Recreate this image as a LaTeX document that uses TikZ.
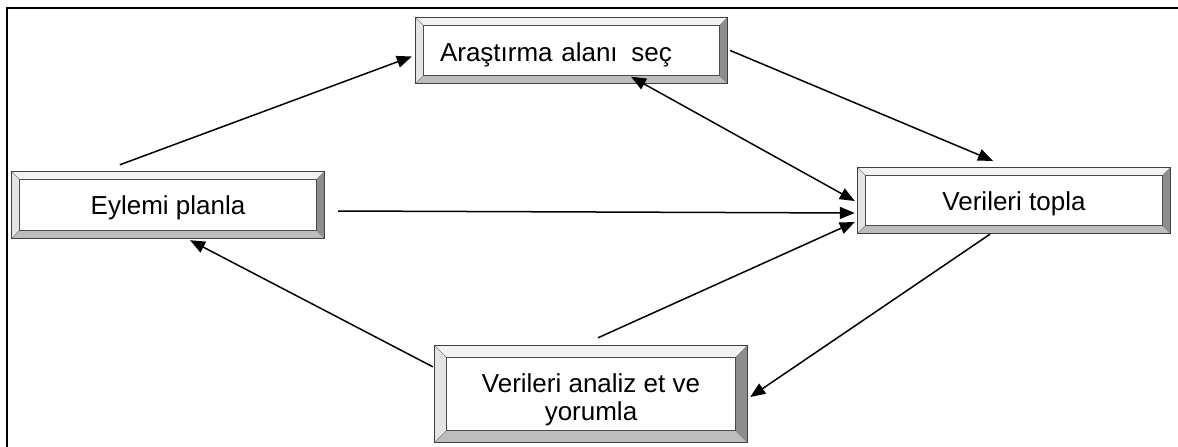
\documentclass[tikz,border=0pt]{standalone}
\usepackage{fontspec}
\setmainfont{Liberation Sans}
\usetikzlibrary{arrows.meta}
\definecolor{bevtop}{HTML}{F2F2F2}
\definecolor{bevleft}{HTML}{E4E4E4}
\definecolor{bevright}{HTML}{8E8E8E}
\definecolor{bevbottom}{HTML}{BDBDBD}
\tikzset{
  box/.style={rectangle, inner sep=0pt, minimum width=312pt, minimum height=66pt,
    font=\fontsize{26}{28}\selectfont, align=center, text height=20pt, text depth=0pt},
  conn/.style={-{Triangle[length=15pt,width=12pt]}, line width=1.5pt, black},
  bconn/.style={{Triangle[length=15pt,width=12pt]}-{Triangle[length=15pt,width=12pt]}, line width=1.5pt, black},
  frame/.style={line width=1.4pt, black},
}
\newcommand\bevelbox[2]{%
  \fill[bevtop] (#1.north west) -- (#1.north east) -- ([xshift=-#2,yshift=-#2]#1.north east) -- ([xshift=#2,yshift=-#2]#1.north west) -- cycle;
  \fill[bevleft] (#1.north west) -- (#1.south west) -- ([xshift=#2,yshift=#2]#1.south west) -- ([xshift=#2,yshift=-#2]#1.north west) -- cycle;
  \fill[bevright] (#1.north east) -- (#1.south east) -- ([xshift=-#2,yshift=#2]#1.south east) -- ([xshift=-#2,yshift=-#2]#1.north east) -- cycle;
  \fill[bevbottom] (#1.south west) -- (#1.south east) -- ([xshift=-#2,yshift=#2]#1.south east) -- ([xshift=#2,yshift=#2]#1.south west) -- cycle;
  \draw[gray, line width=0.6pt] (#1.north west) -- ([xshift=#2,yshift=-#2]#1.north west)
    (#1.north east) -- ([xshift=-#2,yshift=-#2]#1.north east)
    (#1.south west) -- ([xshift=#2,yshift=#2]#1.south west)
    (#1.south east) -- ([xshift=-#2,yshift=#2]#1.south east);
  \draw[black!75, line width=1.1pt] (#1.north west) rectangle (#1.south east);
  \draw[black!70, line width=1pt] ([xshift=#2,yshift=-#2]#1.north west) rectangle ([xshift=-#2,yshift=#2]#1.south east);
}
\begin{document}
\begin{tikzpicture}[x=1pt,y=1pt]
\useasboundingbox (0,0) rectangle (1178,-447);
\fill[white] (0,0) rectangle (1178,-447);
% frame
\draw[frame] (7,-447) -- (7,-8) -- (1178,-8);
% boxes
\node[box, minimum width=311pt, minimum height=65pt, text width=263pt, align=left, inner xsep=24pt, text height=22pt] (ara) at (571.5,-50.5) {Araştırma alanı \hspace{5pt}seç};
\node[box, text height=18pt] (eyl) at (168,-205) {Eylemi planla};
\node[box, minimum height=65pt] (ver) at (1014,-200.5) {Verileri topla};
\node[box, minimum height=96pt, text height=53pt, text depth=0pt] (ana) at (591,-394) {Verileri analiz et ve\\yorumla};
\bevelbox{ara}{7.5pt}
\bevelbox{eyl}{8pt}
\bevelbox{ver}{8pt}
\bevelbox{ana}{12pt}
% connectors
\draw[conn] ([xshift=108pt,yshift=7pt]eyl.north west) -- ([xshift=-4pt,yshift=-6pt]ara.west);
\draw[conn] ([xshift=3pt,yshift=0pt]ara.east) -- ([xshift=-21pt,yshift=7pt]ver.north);
\draw[bconn] ([xshift=59.5pt,yshift=6.5pt]ara.south) -- ([xshift=-3pt,yshift=-0.5pt]ver.west);
\draw[conn] ([xshift=14pt,yshift=-6pt]eyl.east) -- ([xshift=-3pt,yshift=-12.5pt]ver.west);
\draw[conn] ([xshift=7pt,yshift=8pt]ana.north) -- ([xshift=-3pt,yshift=-21.5pt]ver.west);
\draw[conn] ([xshift=-24pt,yshift=-1pt]ver.south) -- ([xshift=3pt,yshift=-3pt]ana.east);
\draw[conn] ([xshift=-2pt,yshift=-21pt]ana.north west) -- ([xshift=22pt,yshift=-2pt]eyl.south);
\end{tikzpicture}
\end{document}
